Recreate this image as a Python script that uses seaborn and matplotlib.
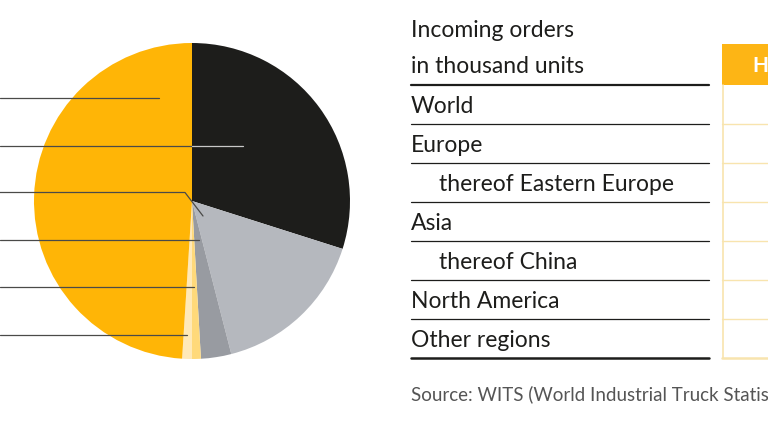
# -*- coding: utf-8 -*-
import matplotlib
matplotlib.use("Agg")
import matplotlib.pyplot as plt
import seaborn as sns

# pie shares, clockwise from 12 o'clock
SHARES = [29.9, 16.1, 3.1, 0.9, 1.0, 49.0]
SLICE_COLORS = ["#1d1d1b", "#b5b8be", "#989ba1", "#ffd97a", "#ffe9b8", "#ffb506"]

HEADER_LINES = ["Incoming orders", "in thousand units"]
ROW_LABELS = ["World", "Europe", "thereof Eastern Europe", "Asia",
              "thereof China", "North America", "Other regions"]
INDENTED = ["thereof Eastern Europe", "thereof China"]
COLUMN_HEAD = "H"
SOURCE = "Source: WITS (World Industrial Truck Statis"

W, H = 768, 432
ORANGE = "#fdb515"
PALE = "#f8e4ae"
INK = "#1d1d1b"

sns.set_theme(style="white")
plt.rcParams["font.family"] = ["Lato", "DejaVu Sans"]

fig = plt.figure(figsize=(W / 100, H / 100), dpi=100)

# pie gets its own axes, centre (192, 201), radius 158
R = 158
pie_ax = fig.add_axes([(192 - R) / W, 1 - (201 + R) / H, 2 * R / W, 2 * R / H])
pie_ax.pie(SHARES, colors=SLICE_COLORS, startangle=90, counterclock=False,
           radius=1.0, wedgeprops={"linewidth": 0})
pie_ax.set_xlim(-1, 1)
pie_ax.set_ylim(-1, 1)

# everything else in pixel coordinates, y pointing down
top = fig.add_axes([0, 0, 1, 1])
top.set_xlim(0, W)
top.set_ylim(H, 0)
top.axis("off")
top.patch.set_alpha(0)

# leader lines
LEAD = "#4a4a48"
top.plot([0, 159], [98, 98], color=LEAD, lw=0.9)
top.plot([0, 192], [145.5, 145.5], color=LEAD, lw=0.9)
top.plot([192, 243], [145.5, 145.5], color="#c8c8c8", lw=0.9)
top.plot([0, 185, 203], [192.5, 192.5, 216], color=LEAD, lw=0.9)
top.plot([0, 199], [240, 240], color=LEAD, lw=0.9)
top.plot([0, 194], [287, 287], color=LEAD, lw=0.9)
top.plot([0, 187], [335, 335], color=LEAD, lw=0.9)

# label column
FS = 16.5
first_rule = 84.7
row_h = 39.0
top.text(411, 36.7, HEADER_LINES[0], fontsize=FS, color=INK, va="baseline")
top.text(411, 73, HEADER_LINES[1], fontsize=FS, color=INK, va="baseline")
top.plot([411, 709], [first_rule, first_rule], color=INK, lw=1.6)
for i, label in enumerate(ROW_LABELS):
    x = 439 if label in INDENTED else 411
    y = first_rule + row_h * (i + 1)
    top.text(x, y - 11, label, fontsize=FS, color=INK, va="baseline")
    last = i == len(ROW_LABELS) - 1
    top.plot([411, 709], [y, y], color=INK, lw=1.8 if last else 0.9)

# value column, runs off the right edge
top.fill_between([722, 768], 44, first_rule, color=ORANGE, lw=0)
top.text(752, 72, COLUMN_HEAD, fontsize=15, color="white", weight="bold",
         va="baseline")
bottom = first_rule + row_h * len(ROW_LABELS)
top.plot([722.5, 722.5], [first_rule, bottom], color=PALE, lw=1.2)
for i in range(len(ROW_LABELS)):
    y = first_rule + row_h * (i + 1)
    top.plot([722, 768], [y, y], color=PALE, lw=1.8 if i == len(ROW_LABELS) - 1 else 1.0)

top.text(411, 400, SOURCE, fontsize=13.5, color="#555555", va="baseline")

fig.savefig("out.png", dpi=100)
